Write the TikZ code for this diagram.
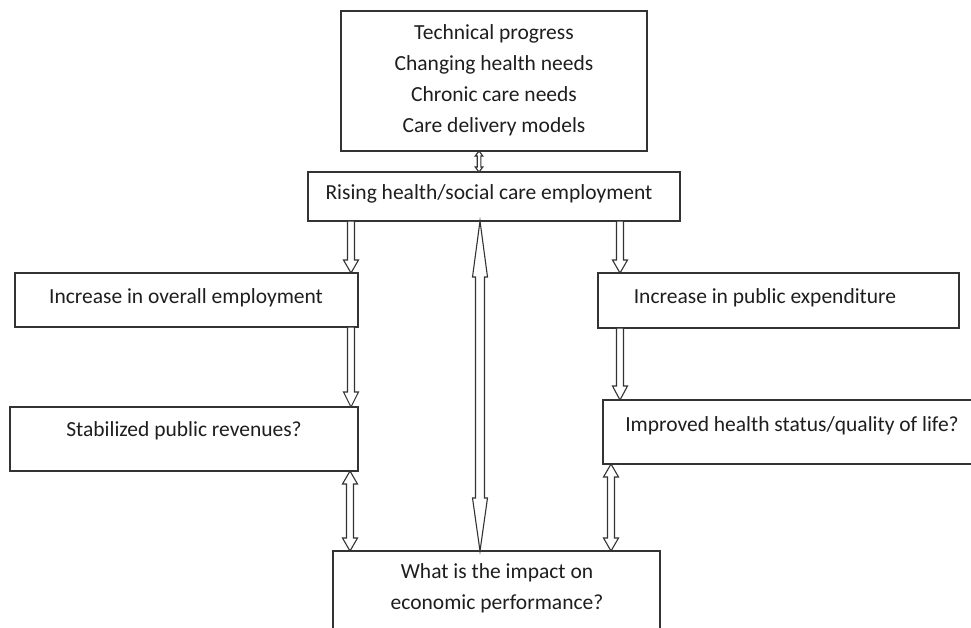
\documentclass[tikz,border=0pt]{standalone}
\usepackage{fontspec}
\setmainfont{Carlito}
\usetikzlibrary{calc}
\definecolor{ink}{HTML}{333333}
\definecolor{txtink}{HTML}{1E1E1E}
\tikzset{
  box/.style={draw=ink, line width=1.3pt, rectangle, inner sep=0pt, outer sep=0pt, anchor=north west},
  txt/.style={text=txtink, font=\fontsize{21.5}{31}\selectfont, align=center, inner sep=0pt},
  blk/.style={draw=ink, line width=1.1pt, fill=white, line join=miter}
}
% vertical block arrow pointing down: x, from, to, shaft half, head half, head length
\newcommand\downblk[6]{%
  \draw[blk] let \p1=(#2), \p2=(#3) in
   (#1pt-#4pt,\y1) -- (#1pt+#4pt,\y1) -- (#1pt+#4pt,\y2+#6pt) -- (#1pt+#5pt,\y2+#6pt)
   -- (#1pt,\y2) -- (#1pt-#5pt,\y2+#6pt) -- (#1pt-#4pt,\y2+#6pt) -- cycle;}
% vertical double block arrow: x, top, bottom, shaft half, head half, top head len, bottom head len
\newcommand\dblblk[7]{%
  \draw[blk] let \p1=(#2), \p2=(#3) in
   (#1pt,\y1) -- (#1pt+#5pt,\y1-#6pt) -- (#1pt+#4pt,\y1-#6pt) -- (#1pt+#4pt,\y2+#7pt)
   -- (#1pt+#5pt,\y2+#7pt) -- (#1pt,\y2) -- (#1pt-#5pt,\y2+#7pt) -- (#1pt-#4pt,\y2+#7pt)
   -- (#1pt-#4pt,\y1-#6pt) -- (#1pt-#5pt,\y1-#6pt) -- cycle;}
\begin{document}
\begin{tikzpicture}[x=1pt,y=-1pt]
\useasboundingbox (0,0) rectangle (971,627);
\clip (0,0) rectangle (971,627);
\fill[white] (0,0) rectangle (971,627);
% boxes
\node[box, minimum width=306pt, minimum height=140pt] (top) at (341,11) {};
\node[box, minimum width=372pt, minimum height=49pt] (rise) at (308,172) {};
\node[box, minimum width=343pt, minimum height=54pt] (inco) at (15,273) {};
\node[box, minimum width=361pt, minimum height=55pt] (incp) at (598,273) {};
\node[box, minimum width=348pt, minimum height=64pt] (stab) at (10,407) {};
\node[box, minimum width=390pt, minimum height=64pt] (impr) at (603,400) {};
\node[box, minimum width=327pt, minimum height=100pt] (econ) at (333,551) {};
% texts
\node[txt] (ttop) at (494,80) {Technical progress\\Changing health needs\\Chronic care needs\\Care delivery models};
\node[txt] (trise) at (489,194) {Rising health/social care employment};
\node[txt] (tinco) at (186,298) {Increase in overall employment};
\node[txt] (tincp) at (765,298) {Increase in public expenditure};
\node[txt] (tstab) at (184,431) {Stabilized public revenues?};
\node[txt] (timpr) at (792,426) {Improved health status/quality of life?};
\node[txt] (tecon) at (497,588) {What is the impact on\\economic performance?};
% connectors
\dblblk{479}{top.south}{rise.north}{1.8}{3.8}{5}{5}
\downblk{351}{rise.south}{inco.north}{3.5}{7.5}{13}
\downblk{620}{rise.south}{incp.north}{3.5}{7.5}{13}
\dblblk{480}{rise.south}{econ.north}{4.5}{7.5}{56}{53}
\downblk{351}{inco.south}{stab.north}{3.5}{7.5}{15}
\downblk{620}{incp.south}{impr.north}{3.5}{7.5}{14}
\dblblk{350}{stab.south}{econ.north}{3.5}{7.5}{13}{13}
\dblblk{611}{impr.south}{econ.north}{3.5}{7.5}{13}{13}
\end{tikzpicture}
\end{document}
